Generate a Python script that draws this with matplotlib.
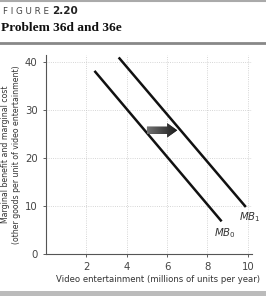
import numpy as np
import matplotlib
matplotlib.use("Agg")
import matplotlib.pyplot as plt
from matplotlib.patches import FancyArrow

# data
mb0_x = [2.4, 8.7]
mb0_y = [38.2, 6.8]
mb1_x = [3.6, 9.9]
mb1_y = [41.0, 9.8]
x_ticks = [2, 4, 6, 8, 10]
y_ticks = [0, 10, 20, 30, 40]
shift_from = (5.0, 25.8)
shift_len = 1.5

fig = plt.figure(figsize=(2.66, 2.96), dpi=100)
plt.rcParams['font.family'] = ['DejaVu Sans']

# header
fig.text(0.012, 0.962, "F I G U R E", fontsize=6.3, color="#444444", va="center",
         family="DejaVu Sans")
fig.text(0.195, 0.962, "2.20", fontsize=7.5, color="#222222", va="center",
         family="DejaVu Sans", fontweight="bold")
fig.text(0.005, 0.905, "Problem 36d and 36e", fontsize=9.6, color="#111111",
         va="center", family="Liberation Serif", fontweight="bold")
fig.add_artist(plt.Line2D([0, 1], [0.856, 0.856], color="#888888", lw=2))
fig.add_artist(plt.Line2D([0, 1], [0.998, 0.998], color="#aaaaaa", lw=1.5))
fig.add_artist(plt.Rectangle((0, 0), 1, 0.016, color="#bbbbbb", lw=0))

ax = fig.add_axes([0.173, 0.142, 0.774, 0.672])
ax.set_xlim(0, 10.2)
ax.set_ylim(0, 41.5)
for s in ["top", "right"]:
    ax.spines[s].set_visible(False)
for s in ["left", "bottom"]:
    ax.spines[s].set_color("#555555")
    ax.spines[s].set_linewidth(0.8)
ax.set_xticks(x_ticks)
ax.set_yticks(y_ticks)
ax.tick_params(labelsize=7.3, colors="#444444", length=2, width=0.6, pad=4)
ax.grid(True, color="#c8c8c8", lw=0.6, ls=":")

ax.plot(mb0_x, mb0_y, color="#111111", lw=1.8, solid_capstyle="butt")
ax.plot(mb1_x, mb1_y, color="#111111", lw=1.8, solid_capstyle="butt")

arr = FancyArrow(shift_from[0], shift_from[1], shift_len, 0, width=1.5,
                 head_width=3.0, head_length=0.5, length_includes_head=True,
                 color="#333333", lw=0)
ax.add_patch(arr)
grad = np.linspace(0.45, 0.1, 50).reshape(1, -1)
im = ax.imshow(grad, cmap="gray", vmin=0, vmax=1, aspect="auto",
               extent=[shift_from[0], shift_from[0] + shift_len,
                       shift_from[1] - 1.6, shift_from[1] + 1.6], zorder=3)
im.set_clip_path(arr)

ax.text(8.3, 3.8, r"$MB_0$", fontsize=7.3, color="#333333")
ax.text(9.55, 7.0, r"$MB_1$", fontsize=7.3, color="#333333")

ax.set_xlabel("Video entertainment (millions of units per year)", fontsize=6.1,
              color="#333333", labelpad=2, x=0.545)
ax.set_ylabel("Marginal benefit and marginal cost\n(other goods per unit of video entertainment)",
              fontsize=5.6, color="#333333", labelpad=3, linespacing=1.3)

fig.savefig("out.png", dpi=100)
